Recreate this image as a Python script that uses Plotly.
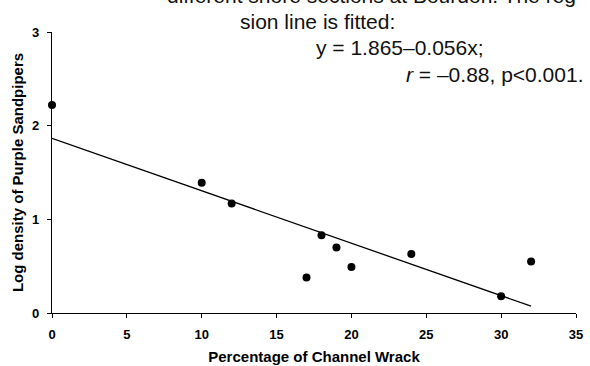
import plotly.graph_objects as go

# Data
wrack_pct = [0, 10, 12, 17, 18, 19, 20, 24, 30, 32]
log_density = [2.22, 1.39, 1.17, 0.38, 0.83, 0.70, 0.49, 0.63, 0.18, 0.55]

intercept = 1.865
slope = -0.056
fit_x = [0, 32]
fit_y = [intercept + slope * v for v in fit_x]

x_ticks = [0, 5, 10, 15, 20, 25, 30, 35]
y_ticks = [0, 1, 2, 3]

text_lines = [
    "different shore sections at Bourdon. The reg-",
    "sion line is fitted:",
    "y = 1.865\u20130.056x;",
    "<i>r</i> = \u20130.88, p<0.001.",
]

FONT = "Liberation Sans, Arial, sans-serif"

fig = go.Figure()
fig.add_trace(go.Scatter(x=fit_x, y=fit_y, mode="lines",
                         line=dict(color="black", width=1.3),
                         showlegend=False, hoverinfo="skip"))
fig.add_trace(go.Scatter(x=wrack_pct, y=log_density, mode="markers",
                         marker=dict(color="black", size=8),
                         cliponaxis=False, showlegend=False))

L, R, T, B = 52, 14, 32, 53
W, H = 590, 366
pw, ph = W - L - R, H - T - B

def px(x):
    return (x - L) / pw

def py(y):
    return (H - B - y) / ph

anns = [
    dict(text=text_lines[0], x=px(166), y=py(-4), xanchor="left"),
    dict(text=text_lines[1], x=px(239), y=py(21), xanchor="left"),
    dict(text=text_lines[2], x=px(315), y=py(47), xanchor="left"),
    dict(text=text_lines[3], x=px(584), y=py(74), xanchor="right"),
]
for a in anns:
    fig.add_annotation(xref="paper", yref="paper", yanchor="middle",
                       showarrow=False, borderpad=0,
                       font=dict(family=FONT, size=21, color="#111"), **a)

fig.update_layout(
    width=W, height=H,
    margin=dict(l=L, r=R, t=T, b=B, autoexpand=False),
    paper_bgcolor="white", plot_bgcolor="white",
    font=dict(family=FONT, color="black"),
)
fig.update_xaxes(
    automargin=False,
    range=[0, 35], tickvals=x_ticks, ticktext=[str(v) for v in x_ticks],
    showgrid=False, zeroline=False, showline=True, linecolor="black", linewidth=1.2,
    ticks="outside", ticklen=4, tickcolor="black", tickwidth=1.2,
    ticklabelstandoff=5,
    tickfont=dict(family=FONT, size=13, weight="bold"),
    title=dict(text="Percentage of Channel Wrack", standoff=10,
               font=dict(family=FONT, size=15, weight="bold")),
)
fig.update_yaxes(
    automargin=False,
    range=[0, 3], tickvals=y_ticks, ticktext=[str(v) for v in y_ticks],
    showgrid=False, zeroline=False, showline=True, linecolor="black", linewidth=1.2,
    ticks="outside", ticklen=4, tickcolor="black", tickwidth=1.2,
    ticklabelstandoff=5,
    tickfont=dict(family=FONT, size=13, weight="bold"),
    title=dict(text="Log density of Purple Sandpipers", standoff=4,
               font=dict(family=FONT, size=15, weight="bold")),
)

fig.write_html("out.html", config={"displayModeBar": False},
               post_script="document.body.style.margin='0';")
